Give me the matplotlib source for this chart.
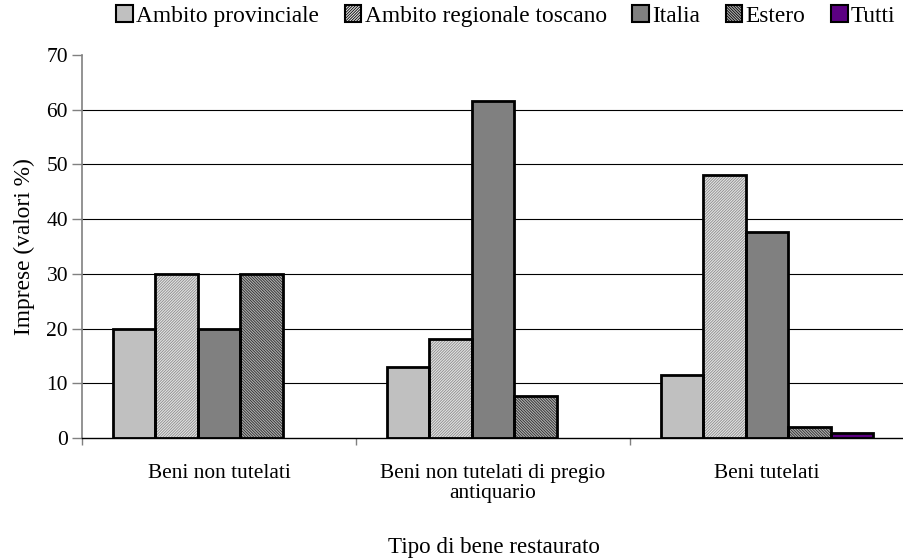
import matplotlib
matplotlib.use("Agg")
import matplotlib.pyplot as plt
import matplotlib.patches as mpatches
import numpy as np

plt.rcParams['font.family'] = ['Liberation Serif', 'DejaVu Serif']
plt.rcParams['hatch.linewidth'] = 0.6

categories = ["Beni non tutelati", "Beni non tutelati di pregio\nantiquario", "Beni tutelati"]
series_names = ["Ambito provinciale", "Ambito regionale toscano", "Italia", "Estero", "Tutti"]
provinciale = [20.0, 12.9, 11.5]
regionale = [30.0, 18.1, 48.0]
italia = [20.0, 61.6, 37.6]
estero = [30.0, 7.7, 2.0]
tutti = [0.0, 0.0, 0.9]
series = [provinciale, regionale, italia, estero, tutti]

faces = ['#c0c0c0', '#e4e4e4', '#808080', '#b0b0b0', '#5c0082']
hatches = [None, '////////////', None, '\\\\\\\\\\\\\\\\\\\\\\\\', None]
hatch_colors = [None, '#8c8c8c', None, '#2a2a2a', None]

fig = plt.figure(figsize=(9.04, 5.59), dpi=100)
ax = fig.add_axes([82/904, 1-438/559, 1-82/904, (438-55)/559])

x = np.arange(len(categories))
w = 0.155
handles = []
for i, (vals, fc, h, hc) in enumerate(zip(series, faces, hatches, hatch_colors)):
    vals = np.asarray(vals)
    keep = vals > 0
    pos = (x + (i - 2) * w)[keep]
    v = vals[keep]
    if h is not None:
        ax.bar(pos, v, w, color=fc, edgecolor=hc, hatch=h, linewidth=0, zorder=2)
    else:
        ax.bar(pos, v, w, color=fc, linewidth=0, zorder=2)
    ax.bar(pos, v, w, fill=False, edgecolor='black', linewidth=2, zorder=3)
    handles.append(mpatches.Patch(facecolor=fc, edgecolor='black', hatch=h, linewidth=1.5))

ax.set_xlim(-0.5, 2.5)
ax.set_ylim(0, 70)
ax.set_yticks(range(0, 80, 10))
for yv in range(10, 70, 10):
    ax.axhline(yv, color='black', linewidth=0.8, zorder=1)
ax.spines['top'].set_visible(False)
ax.spines['right'].set_visible(False)
ax.spines['left'].set_color('#808080')
ax.spines['left'].set_linewidth(1.2)
ax.spines['bottom'].set_color('black')
ax.spines['bottom'].set_linewidth(1.0)
ax.tick_params(axis='y', length=7, width=1, color='#808080', labelsize=15.5, pad=3)
ax.set_xticks([-0.5, 0.5, 1.5, 2.5], minor=False)
ax.set_xticklabels([])
ax.tick_params(axis='x', length=5, width=1, color='#808080')
ax.set_xticks(x, minor=True)
ax.set_xticklabels(categories, minor=True, fontsize=15.4, linespacing=1.05)
ax.tick_params(axis='x', which='minor', length=0, pad=19)
ax.set_ylabel("Imprese (valori %)", fontsize=16.8, labelpad=8)
fig.text(494/904, 1-548/559, "Tipo di bene restaurato", ha='center', va='center', fontsize=16.6)

fig.legend(handles, series_names, loc='center', bbox_to_anchor=(506/904, 1-16/559), ncol=5,
           frameon=False, fontsize=16.8, handlelength=0.7, handleheight=0.7,
           handletextpad=0.15, columnspacing=1.1, borderpad=0)

fig.savefig("out.png", dpi=100)
